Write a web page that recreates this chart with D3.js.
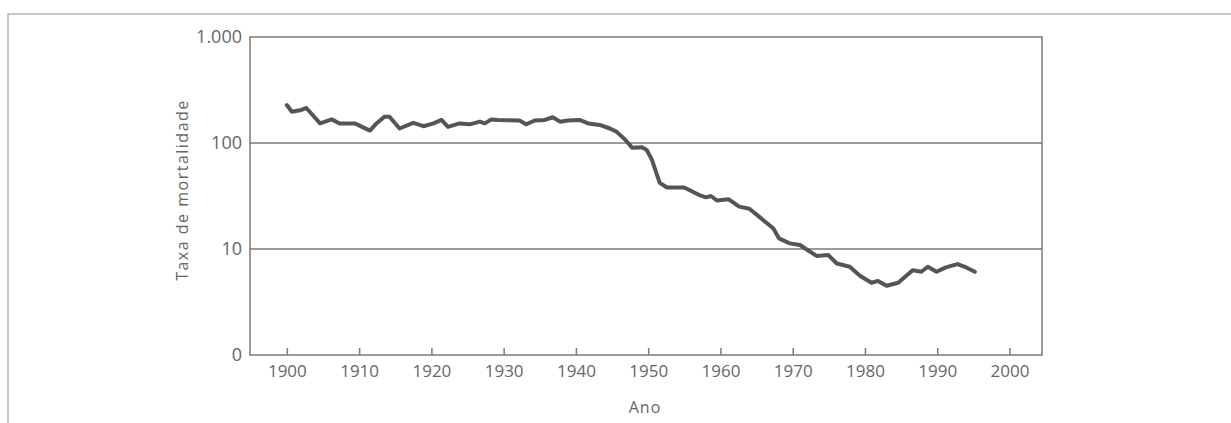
<!DOCTYPE html>
<html>
<head>
<meta charset="utf-8">
<script src="https://cdn.jsdelivr.net/npm/d3@7"></script>
<style>
  html, body { margin: 0; padding: 0; background: #fff; }
  svg { display: block; }
  text { font-family: "Open Sans", Lato, sans-serif; fill: #666; }
</style>
</head>
<body>
<svg id="chart" width="1231" height="423"></svg>
<script>
// mortality rate (log scale)
const years = [
  1900, 1900.7, 1902, 1902.7, 1904.6, 1906.2, 1907.3, 1909.4, 1911.5, 1912.4,
  1913.5, 1914.2, 1915.6, 1917.5, 1918.9, 1920.3, 1921.4, 1922.3, 1923.9, 1925.3,
  1926.7, 1927.4, 1928.3, 1929.2, 1932.2, 1933.1, 1934.3, 1935.7, 1936.8, 1937.8,
  1938.9, 1940.5, 1941.7, 1943.3, 1944.7, 1945.6, 1946.8, 1947.8, 1949.2, 1949.8,
  1950.5, 1951.6, 1952.6, 1955.0, 1957.2, 1958.0, 1958.7, 1959.5, 1961.1, 1962.6,
  1964.0, 1965.9, 1967.3, 1968.1, 1969.6, 1971.0, 1973.3, 1974.9, 1976.1, 1977.9,
  1979.3, 1980.9, 1981.8, 1983.0, 1984.6, 1986.6, 1987.8, 1988.7, 1989.9, 1991.2,
  1992.8, 1994.0, 1995.2
];
const rates = [
  228, 197, 205, 214, 153, 167, 153, 153, 131, 153,
  177, 177, 137, 155, 144, 153, 165, 142, 153, 150,
  159, 153, 167, 165, 163, 150, 163, 165, 175, 159,
  163, 165, 153, 148, 137, 128, 108, 90, 91, 86,
  70, 42, 38, 38, 32, 30.7, 31.6, 28.7, 29.5, 25.1,
  24, 18.8, 15.7, 12.6, 11.3, 10.9, 8.6, 8.8, 7.3, 6.8,
  5.6, 4.8, 5.0, 4.5, 4.8, 6.3, 6.1, 6.8, 6.1, 6.7,
  7.2, 6.7, 6.1
];

const xTicks = [1900, 1910, 1920, 1930, 1940, 1950, 1960, 1970, 1980, 1990, 2000];
const yTicks = [1, 10, 100, 1000];
const yTickLabels = ["0", "10", "100", "1.000"];
const gridValues = [10, 100];

const svg = d3.select("#chart");

// scanned page frame
svg.append("path")
  .attr("d", "M8,430 L8,14 L1240,14")
  .attr("fill", "none")
  .attr("stroke", "#b5b5b5")
  .attr("stroke-width", 1.5);

const plot = { left: 250, right: 1042, top: 37, bottom: 355 };

const x = d3.scaleLinear().domain([1894.9, 2004.5]).range([plot.left, plot.right]);
const y = d3.scaleLog().domain([1, 1000]).range([plot.bottom, plot.top]);

// gridlines
svg.append("g")
  .selectAll("line")
  .data(gridValues)
  .join("line")
  .attr("x1", plot.left)
  .attr("x2", plot.right)
  .attr("y1", (d) => y(d))
  .attr("y2", (d) => y(d))
  .attr("stroke", "#7a7a7a")
  .attr("stroke-width", 1.5);

// plot box
svg.append("rect")
  .attr("x", plot.left)
  .attr("y", plot.top)
  .attr("width", plot.right - plot.left)
  .attr("height", plot.bottom - plot.top)
  .attr("fill", "none")
  .attr("stroke", "#7a7a7a")
  .attr("stroke-width", 1.5);

// x axis
const xAxis = svg.append("g")
  .attr("transform", `translate(0,${plot.bottom})`)
  .call(d3.axisBottom(x).tickValues(xTicks).tickFormat(d3.format("d")).tickSize(-7).tickPadding(10));
xAxis.select(".domain").remove();
xAxis.selectAll(".tick line").attr("stroke", "#7a7a7a").attr("stroke-width", 1.5);
xAxis.selectAll(".tick text")
  .attr("font-size", 17)
  .attr("font-family", "'Open Sans', Lato, sans-serif")
  .attr("fill", "#666");

// y axis
const yAxis = svg.append("g")
  .attr("transform", `translate(${plot.left},0)`)
  .call(d3.axisLeft(y).tickValues(yTicks).tickFormat((d, i) => yTickLabels[i]).tickSize(0).tickPadding(8));
yAxis.select(".domain").remove();
yAxis.selectAll(".tick text")
  .attr("font-size", 18)
  .attr("font-family", "'Open Sans', Lato, sans-serif")
  .attr("fill", "#666");

// series
const data = years.map((yr, i) => ({ year: yr, rate: rates[i] }));
svg.append("path")
  .datum(data)
  .attr("fill", "none")
  .attr("stroke", "#555")
  .attr("stroke-width", 4)
  .attr("stroke-linejoin", "round")
  .attr("stroke-linecap", "round")
  .attr("d", d3.line().x((d) => x(d.year)).y((d) => y(d.rate)));

// titles
svg.append("text")
  .attr("transform", "translate(188,190) rotate(-90)")
  .attr("text-anchor", "middle")
  .attr("font-size", 16)
  .attr("letter-spacing", 1.5)
  .text("Taxa de mortalidade");

svg.append("text")
  .attr("x", 645)
  .attr("y", 413)
  .attr("text-anchor", "middle")
  .attr("font-size", 16)
  .attr("letter-spacing", 1)
  .text("Ano");
</script>
</body>
</html>
